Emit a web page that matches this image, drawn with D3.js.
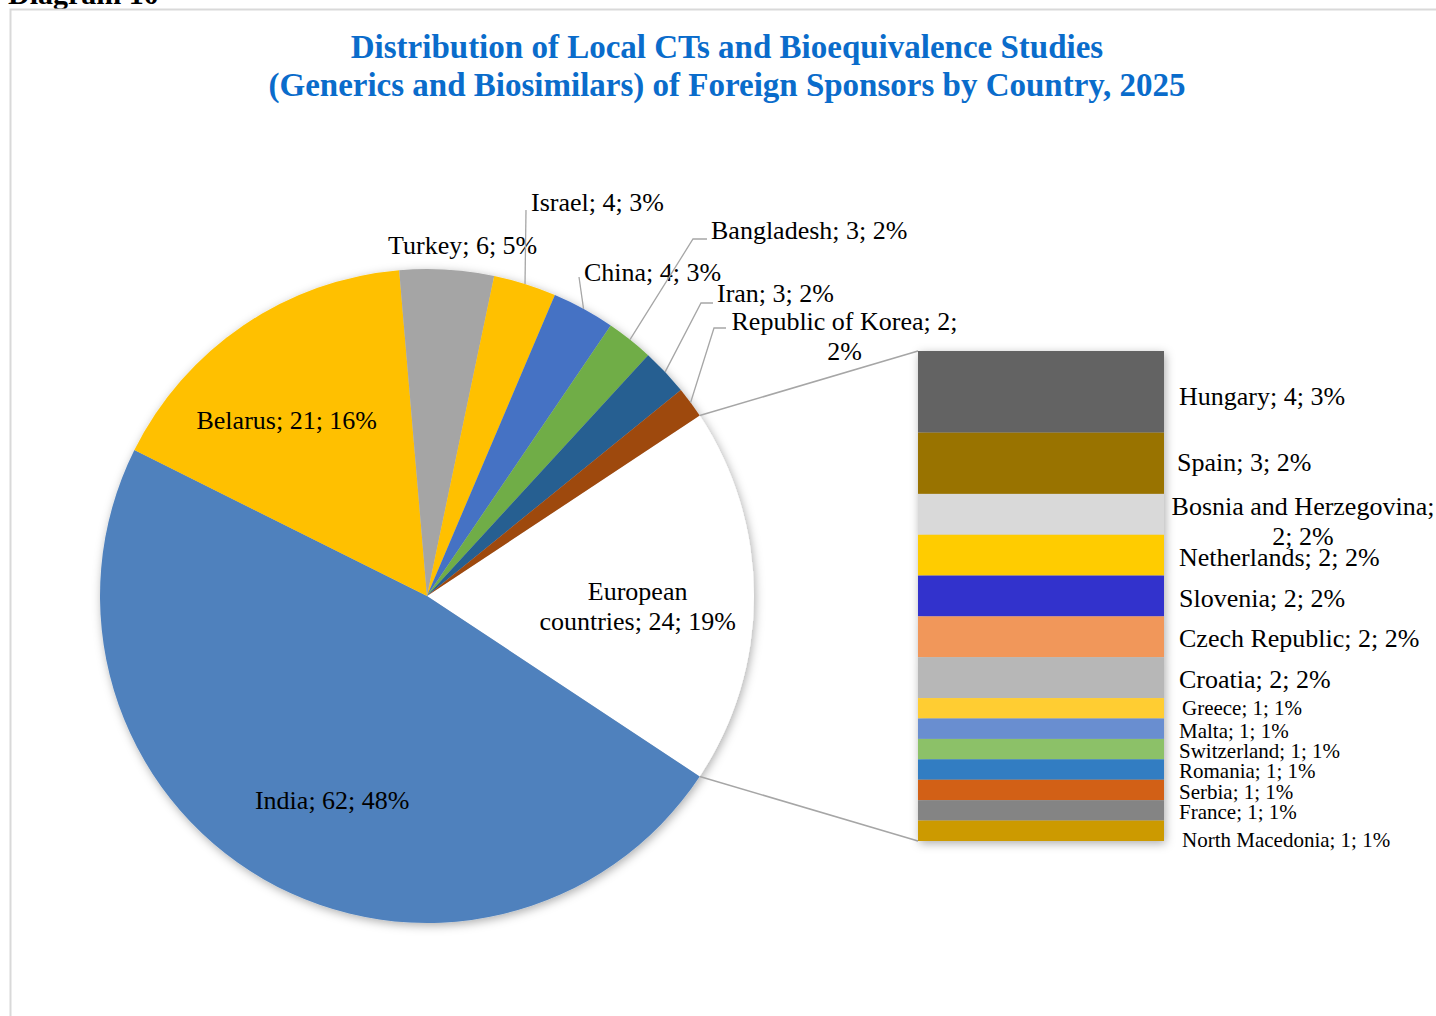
<!DOCTYPE html>
<html><head><meta charset="utf-8">
<script src="https://cdn.jsdelivr.net/npm/d3@7"></script>
<style>
body{margin:0;background:#fff;overflow:hidden}
svg{display:block}
text{font-family:"Liberation Serif","Times New Roman",serif;fill:#000}
</style>
</head><body>
<svg id="chart" width="1436" height="1016"></svg>
<script>
// ---------- data ----------
const titleLines = ["Distribution of Local CTs and Bioequivalence Studies",
                    "(Generics and Biosimilars) of Foreign Sponsors by Country, 2025"];
const pieCategories = ["European countries","India","Belarus","Turkey","Israel","China","Bangladesh","Iran","Republic of Korea"];
const pieValues     = [24, 62, 21, 6, 4, 4, 3, 3, 2];
const pieColors     = ["#FFFFFF","#4F81BD","#FFC000","#A5A5A5","#FFC000","#4472C4","#70AD47","#255E91","#9E480E"];

const barCategories = ["Hungary","Spain","Bosnia and Herzegovina","Netherlands","Slovenia","Czech Republic","Croatia",
                       "Greece","Malta","Switzerland","Romania","Serbia","France","North Macedonia"];
const barValues     = [4, 3, 2, 2, 2, 2, 2, 1, 1, 1, 1, 1, 1, 1];
const barColors     = ["#636363","#997300","#D9D9D9","#FFCC00","#3333CC","#F1975A","#B7B7B7",
                       "#FFCD33","#698ED0","#8CC168","#327DC2","#D26012","#848484","#CC9A00"];

// ---------- layout ----------
const W = 1436, H = 1016;
const cx = 427, cy = 596, R = 327;
const bar = {x0: 918, x1: 1164, y0: 351, y1: 841};
const total = d3.sum(pieValues);
const pct = v => Math.round(v / total * 100) + "%";
const lab = (n, v) => `${n}; ${v}; ${pct(v)}`;
const FS = 26, FS_SMALL = 21;

const svg = d3.select("#chart");
const defs = svg.append("defs");
const f = defs.append("filter").attr("id","shadow").attr("x","-20%").attr("y","-20%").attr("width","140%").attr("height","140%");
f.append("feDropShadow").attr("dx",1.5).attr("dy",2.5).attr("stdDeviation",5).attr("flood-color","#000").attr("flood-opacity",0.32);

// frame + cropped caption above
svg.append("text").attr("x", 8).attr("y", 4).attr("font-size", 30).attr("font-weight","bold").text("Diagram 10");
svg.append("path").attr("d", `M10.5,${H} V9.5 H${W}`).attr("fill","none").attr("stroke","#D9D9D9").attr("stroke-width",2);

// title
svg.append("g").selectAll("text").data(titleLines).join("text")
  .attr("x", 727).attr("y", (d,i) => 58 + i*38)
  .attr("text-anchor","middle").attr("font-size", 33).attr("font-weight","bold")
  .style("fill","#0A6CCB").text(d => d);

// ---------- pie ----------
const euroAngle = pieValues[0] / total * 2 * Math.PI;
const pie = d3.pie().sort(null).value(d => d.v)
  .startAngle(Math.PI/2 - euroAngle/2).endAngle(Math.PI/2 - euroAngle/2 + 2*Math.PI);
const pieData = pieCategories.map((n,i) => ({n, v: pieValues[i], c: pieColors[i]}));
const arcs = pie(pieData);
const arc = d3.arc().innerRadius(0).outerRadius(R);
const gPie = svg.append("g").attr("transform", `translate(${cx},${cy})`);
gPie.append("g").attr("filter","url(#shadow)")
  .selectAll("path").data(arcs).join("path")
  .attr("d", arc).attr("fill", d => d.data.c);

const onArc = (a, r=R) => [Math.sin(a)*r, -Math.cos(a)*r];
const mid = d => (d.startAngle + d.endAngle)/2;

// inside labels
const inside = {"European countries": {r: 0.645, da: 0.05, lines: ["European", "countries; 24; 19%"]},
                "India": {r: 0.69, da: -0.09}, "Belarus": {r: 0.685, da: -0.08}};
arcs.filter(d => inside[d.data.n]).forEach(d => {
  const o = inside[d.data.n];
  const [x,y] = onArc(mid(d) + o.da, R*o.r);
  const lines = o.lines || [lab(d.data.n, d.data.v)];
  const t = gPie.append("text").attr("text-anchor","middle").attr("font-size",FS);
  lines.forEach((l,i) => t.append("tspan").attr("x", x)
    .attr("y", y + 8 + (i - (lines.length-1)/2)*30).text(l));
});

// outside labels: text anchor point (relative to pie centre) and leader elbow
const outside = {
  "Turkey":            {tx: 388-cx, ty: 254-cy, leader: null},
  "Israel":            {tx: 531-cx, ty: 211-cy, leader: [[526-cx, 210-cy]]},
  "China":             {tx: 584-cx, ty: 281-cy, leader: [[579-cx, 277-cy]]},
  "Bangladesh":        {tx: 711-cx, ty: 239-cy, leader: [[693-cx, 239-cy],[707-cx, 239-cy]]},
  "Iran":              {tx: 717-cx, ty: 302-cy, leader: [[701-cx, 303-cy],[713-cx, 303-cy]]},
  "Republic of Korea": {tx: 729-cx, ty: 330-cy, leader: [[714-cx, 328-cy],[726-cx, 328-cy]],
                        lines: ["Republic of Korea; 2;", "2%"]}
};
arcs.filter(d => outside[d.data.n]).forEach(d => {
  const o = outside[d.data.n];
  if (o.leader) {
    const pts = [onArc(mid(d), R)].concat(o.leader);
    gPie.append("path").attr("d", d3.line()(pts)).attr("fill","none")
      .attr("stroke","#A6A6A6").attr("stroke-width",1.3);
  }
  const t = gPie.append("text").attr("font-size",FS);
  if (o.lines) {
    t.attr("text-anchor","middle");
    const w = 231;
    o.lines.forEach((l,i) => t.append("tspan").attr("x", o.tx + w/2).attr("y", o.ty + i*30).text(l));
  } else {
    t.attr("x", o.tx).attr("y", o.ty).text(lab(d.data.n, d.data.v));
  }
});

// ---------- bar of pie ----------
const y = d3.scaleLinear().domain([0, d3.sum(barValues)]).range([bar.y0, bar.y1]);
const cum = d3.cumsum(barValues);
const segs = barCategories.map((n,i) => ({n, v: barValues[i], c: barColors[i], s: cum[i]-barValues[i], e: cum[i]}));

// connector lines from European slice edges to bar corners
const eu = arcs[0];
const pA = onArc(eu.startAngle), pB = onArc(eu.endAngle);
svg.append("line").attr("x1", cx+pA[0]).attr("y1", cy+pA[1]).attr("x2", bar.x0).attr("y2", y(0))
  .attr("stroke","#A6A6A6").attr("stroke-width",1.5);
svg.append("line").attr("x1", cx+pB[0]).attr("y1", cy+pB[1]).attr("x2", bar.x0).attr("y2", y(d3.sum(barValues)))
  .attr("stroke","#A6A6A6").attr("stroke-width",1.5);

svg.append("g").attr("filter","url(#shadow)")
  .selectAll("rect").data(segs).join("rect")
  .attr("x", bar.x0).attr("width", bar.x1 - bar.x0)
  .attr("y", d => y(d.s)).attr("height", d => y(d.e) - y(d.s))
  .attr("fill", d => d.c);

const barNudge = {"Hungary": 3, "Spain": -3, "Greece": -2, "North Macedonia": 7};
const gBL = svg.append("g");
segs.forEach(d => {
  const c = (y(d.s) + y(d.e))/2 + 2 + (barNudge[d.n] || 0);
  const fs = d.v >= 2 ? FS : FS_SMALL;
  if (d.n === "Bosnia and Herzegovina") {
    const t = gBL.append("text").attr("text-anchor","middle").attr("font-size", fs);
    t.append("tspan").attr("x", 1303).attr("y", c - 9 + 8).text("Bosnia and Herzegovina;");
    t.append("tspan").attr("x", 1303).attr("y", c + 21 + 8).text(`${d.v}; ${pct(d.v)}`);
  } else {
    gBL.append("text").attr("x", d.n === "Greece" || d.n === "North Macedonia" ? 1182 : (d.n === "Spain" ? 1177 : 1179))
      .attr("y", c + fs*0.33).attr("font-size", fs).text(lab(d.n, d.v));
  }
});
</script>
</body></html>
